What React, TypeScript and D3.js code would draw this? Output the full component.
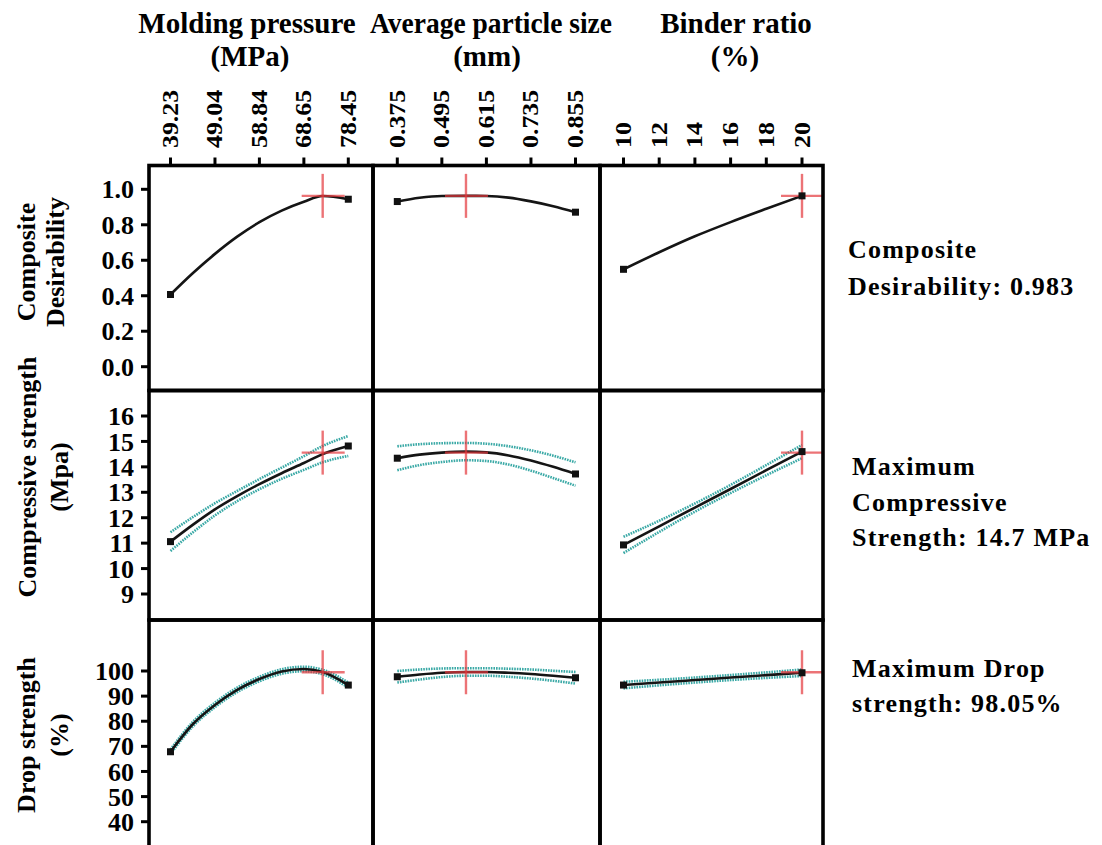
import React from 'react';
import * as d3 from 'd3';

// ---------- data ----------
const factorTitles = [
  ['Molding pressure', '(MPa)'],
  ['Average particle size', '(mm)'],
  ['Binder ratio', '(%)'],
];
const pressureTicks = [39.23, 49.04, 58.84, 68.65, 78.45];
const sizeTicks = [0.375, 0.495, 0.615, 0.735, 0.855];
const binderTicks = [10, 12, 14, 16, 18, 20];
const pressureTickLabels = ['39.23', '49.04', '58.84', '68.65', '78.45'];
const sizeTickLabels = ['0.375', '0.495', '0.615', '0.735', '0.855'];
const binderTickLabels = ['10', '12', '14', '16', '18', '20'];

const pressureX = [39.23, 44.13, 49.04, 53.94, 58.84, 63.75, 68.65, 72.8, 78.45];
const sizeX = [0.375, 0.435, 0.495, 0.56, 0.615, 0.675, 0.735, 0.795, 0.855];
const binderX = [10, 12, 14, 16, 18, 20];
const optimumSetting = [72.8, 0.56, 20];

const responseTitles = [
  ['Composite', 'Desirability'],
  ['Compressive strength', '(Mpa)'],
  ['Drop strength', '(%)'],
];
const desirTicks = [0.0, 0.2, 0.4, 0.6, 0.8, 1.0];
const desirTickLabels = ['0.0', '0.2', '0.4', '0.6', '0.8', '1.0'];
const compTicks = [9, 10, 11, 12, 13, 14, 15, 16];
const dropTicks = [40, 50, 60, 70, 80, 90, 100];
const desirDomain = [0, 1];
const compDomain = [9, 16];
const dropDomain = [40, 100];

// Composite desirability
const desirPressure = [0.407, 0.527, 0.636, 0.733, 0.815, 0.88, 0.93, 0.962, 0.944];
const desirSize = [0.931, 0.952, 0.962, 0.963, 0.962, 0.953, 0.932, 0.905, 0.871];
const desirBinder = [0.549, 0.645, 0.735, 0.815, 0.89, 0.963];

// Compressive strength (MPa) and CI half widths
const compPressure = [11.06, 11.72, 12.33, 12.85, 13.32, 13.75, 14.15, 14.5, 14.82];
const compPressureCI = [0.37, 0.3, 0.24, 0.2, 0.2, 0.22, 0.27, 0.32, 0.39];
const compSize = [14.34, 14.48, 14.56, 14.6, 14.57, 14.45, 14.25, 14.0, 13.72];
const compSizeCI = [0.47, 0.41, 0.37, 0.34, 0.34, 0.36, 0.4, 0.44, 0.46];
const compBinder = [10.93, 11.66, 12.4, 13.13, 13.87, 14.6];
const compBinderCI = [0.32, 0.22, 0.16, 0.16, 0.2, 0.26];

// Drop strength (%) and CI half widths
const dropPressure = [67.85, 78.8, 86.5, 92.5, 96.8, 99.8, 100.8, 99.6, 94.4];
const dropPressureCI = [0.9, 0.9, 0.9, 0.9, 0.9, 0.9, 0.9, 0.9, 1.0];
const dropSize = [97.7, 98.6, 99.3, 99.6, 99.6, 99.3, 98.8, 98.1, 97.3];
const dropSizeCI = [2.3, 2.0, 1.7, 1.5, 1.5, 1.6, 1.8, 2.0, 2.3];
const dropBinder = [94.4, 95.4, 96.4, 97.4, 98.35, 99.3];
const dropBinderCI = [1.3, 1.1, 1.0, 1.0, 1.1, 1.3];

const optimumResponse = [0.963, 14.56, 99.5];

const summaryText = [
  ['Composite', 'Desirability: 0.983'],
  ['Maximum', 'Compressive', 'Strength: 14.7 MPa'],
  ['Maximum Drop', 'strength: 98.05%'],
];

// ---------- layout ----------
const W = 1102;
const H = 845;
const colEdges = [149, 373, 600, 823];
const rowEdges = [165.5, 390.5, 620, 852];
const padL = [21.5, 24.3, 23.5];
const padR = [24.7, 24.5, 21];
const rowRange = [
  [201.2, 23.8],
  [203.5, 25.5],
  [201.7, 51],
];
const FONT = '"Liberation Serif", "Times New Roman", serif';
const TEAL = '#3aa9a6';
const RED = 'rgba(228,56,60,0.7)';

const columns = [
  { ticks: pressureTicks, labels: pressureTickLabels, xs: pressureX },
  { ticks: sizeTicks, labels: sizeTickLabels, xs: sizeX },
  { ticks: binderTicks, labels: binderTickLabels, xs: binderX },
];
const rows = [
  { domain: desirDomain, ticks: desirTicks, labels: desirTickLabels, series: [desirPressure, desirSize, desirBinder], ci: null as number[][] | null },
  { domain: compDomain, ticks: compTicks, labels: compTicks.map(String), series: [compPressure, compSize, compBinder], ci: [compPressureCI, compSizeCI, compBinderCI] },
  { domain: dropDomain, ticks: dropTicks, labels: dropTicks.map(String), series: [dropPressure, dropSize, dropBinder], ci: [dropPressureCI, dropSizeCI, dropBinderCI] },
];

const summaryBaselines = [
  [258, 295],
  [475, 511, 546],
  [677, 712],
];

export default function App() {
  const xScales = columns.map((c, i) =>
    d3.scaleLinear()
      .domain([c.ticks[0], c.ticks[c.ticks.length - 1]])
      .range([colEdges[i] + padL[i], colEdges[i + 1] - padR[i]])
  );
  const yScales = rows.map((r, j) =>
    d3.scaleLinear()
      .domain(r.domain)
      .range([rowEdges[j] + rowRange[j][0], rowEdges[j] + rowRange[j][1]])
  );

  const panels: React.ReactNode[] = [];
  rows.forEach((r, j) => {
    columns.forEach((c, i) => {
      const xs = xScales[i];
      const ys = yScales[j];
      const vals = r.series[i];
      const pts: [number, number][] = c.xs.map((x, k) => [x, vals[k]]);
      const line = d3.line<[number, number]>()
        .x((d) => xs(d[0]))
        .y((d) => ys(d[1]))
        .curve(d3.curveMonotoneX);
      const els: React.ReactNode[] = [];
      if (r.ci) {
        const hw = r.ci[i];
        const up: [number, number][] = c.xs.map((x, k) => [x, vals[k] + hw[k]]);
        const lo: [number, number][] = c.xs.map((x, k) => [x, vals[k] - hw[k]]);
        els.push(<path key="up" d={line(up) || ''} fill="none" stroke={TEAL} strokeWidth={2.6} strokeDasharray="1.6 1" />);
        els.push(<path key="lo" d={line(lo) || ''} fill="none" stroke={TEAL} strokeWidth={2.6} strokeDasharray="1.6 1" />);
      }
      els.push(<path key="main" d={line(pts) || ''} fill="none" stroke="#151515" strokeWidth={2.6} />);
      const ox = xs(optimumSetting[i]);
      const oy = ys(optimumResponse[j]);
      els.push(<line key="rv" x1={ox} x2={ox} y1={oy - 22} y2={oy + 22} stroke={RED} strokeWidth={2.4} />);
      els.push(<line key="rh" x1={ox - 21} x2={ox + 22} y1={oy} y2={oy} stroke={RED} strokeWidth={2.4} />);
      [pts[0], pts[pts.length - 1]].forEach((p, k) => {
        els.push(<rect key={'m' + k} x={xs(p[0]) - 3.5} y={ys(p[1]) - 3.5} width={7} height={7} fill="#111" />);
      });
      panels.push(<g key={`p${j}${i}`}>{els}</g>);
    });
  });

  return (
    <svg width={W} height={H} style={{ position: 'absolute', left: 0, top: 0, background: '#fff' }} fontFamily={FONT} fontWeight="bold">
      <rect x={0} y={0} width={W} height={H} fill="#fff" />
      {/* factor titles */}
      {factorTitles.map((t, i) => {
        const cx = [247, 491, 736][i];
        return (
          <g key={'ft' + i}>
            <text x={cx} y={33} fontSize={29} textAnchor="middle" textLength={i === 1 ? 242 : undefined} lengthAdjust="spacingAndGlyphs">{t[0]}</text>
            <text x={cx + [3, -4, -1][i]} y={66} fontSize={29} textAnchor="middle">{t[1]}</text>
          </g>
        );
      })}
      {/* top ticks and labels */}
      {columns.map((c, i) => (
        <g key={'xt' + i}>
          {c.ticks.map((t, k) => {
            const x = xScales[i](t);
            return (
              <g key={k}>
                <line x1={x} x2={x} y1={rowEdges[0] - 8} y2={rowEdges[0]} stroke="#000" strokeWidth={3} />
                <text transform={`translate(${x + 7.5},148) rotate(-90) scale(1.15,1)`} fontSize={22.5} textAnchor="start">{c.labels[k]}</text>
              </g>
            );
          })}
        </g>
      ))}
      {/* left ticks and labels */}
      {rows.map((r, j) => (
        <g key={'yt' + j}>
          {r.ticks.map((t, k) => {
            const y = yScales[j](t);
            return (
              <g key={k}>
                <line x1={colEdges[0] - 8} x2={colEdges[0]} y1={y} y2={y} stroke="#000" strokeWidth={3} />
                <text x={134} y={y} dy="0.35em" fontSize={26} textAnchor="end">{r.labels[k]}</text>
              </g>
            );
          })}
        </g>
      ))}
      {/* response titles */}
      {responseTitles.map((t, j) => {
        const cy = [262, 477, 735][j];
        const bx = [[35, 64], [36, 68], [35, 68]][j];
        return (
          <g key={'rt' + j}>
            <text transform={`translate(${bx[0]},${cy}) rotate(-90)`} fontSize={26} textAnchor="middle">{t[0]}</text>
            <text transform={`translate(${bx[1]},${cy}) rotate(-90)`} fontSize={26} textAnchor="middle">{t[1]}</text>
          </g>
        );
      })}
      {panels}
      {/* panel borders */}
      {rows.map((_, j) =>
        columns.map((__, i) => (
          <rect key={`b${j}${i}`} x={colEdges[i]} y={rowEdges[j]} width={colEdges[i + 1] - colEdges[i]} height={rowEdges[j + 1] - rowEdges[j]} fill="none" stroke="#000" strokeWidth={3.6} />
        ))
      )}
      {/* summary text */}
      {summaryText.map((lines, j) => (
        <g key={'s' + j}>
          {lines.map((l, k) => (
            <text key={k} x={j === 0 ? 848 : 852} y={summaryBaselines[j][k]} fontSize={26} letterSpacing={1.2}>{l}</text>
          ))}
        </g>
      ))}
    </svg>
  );
}
